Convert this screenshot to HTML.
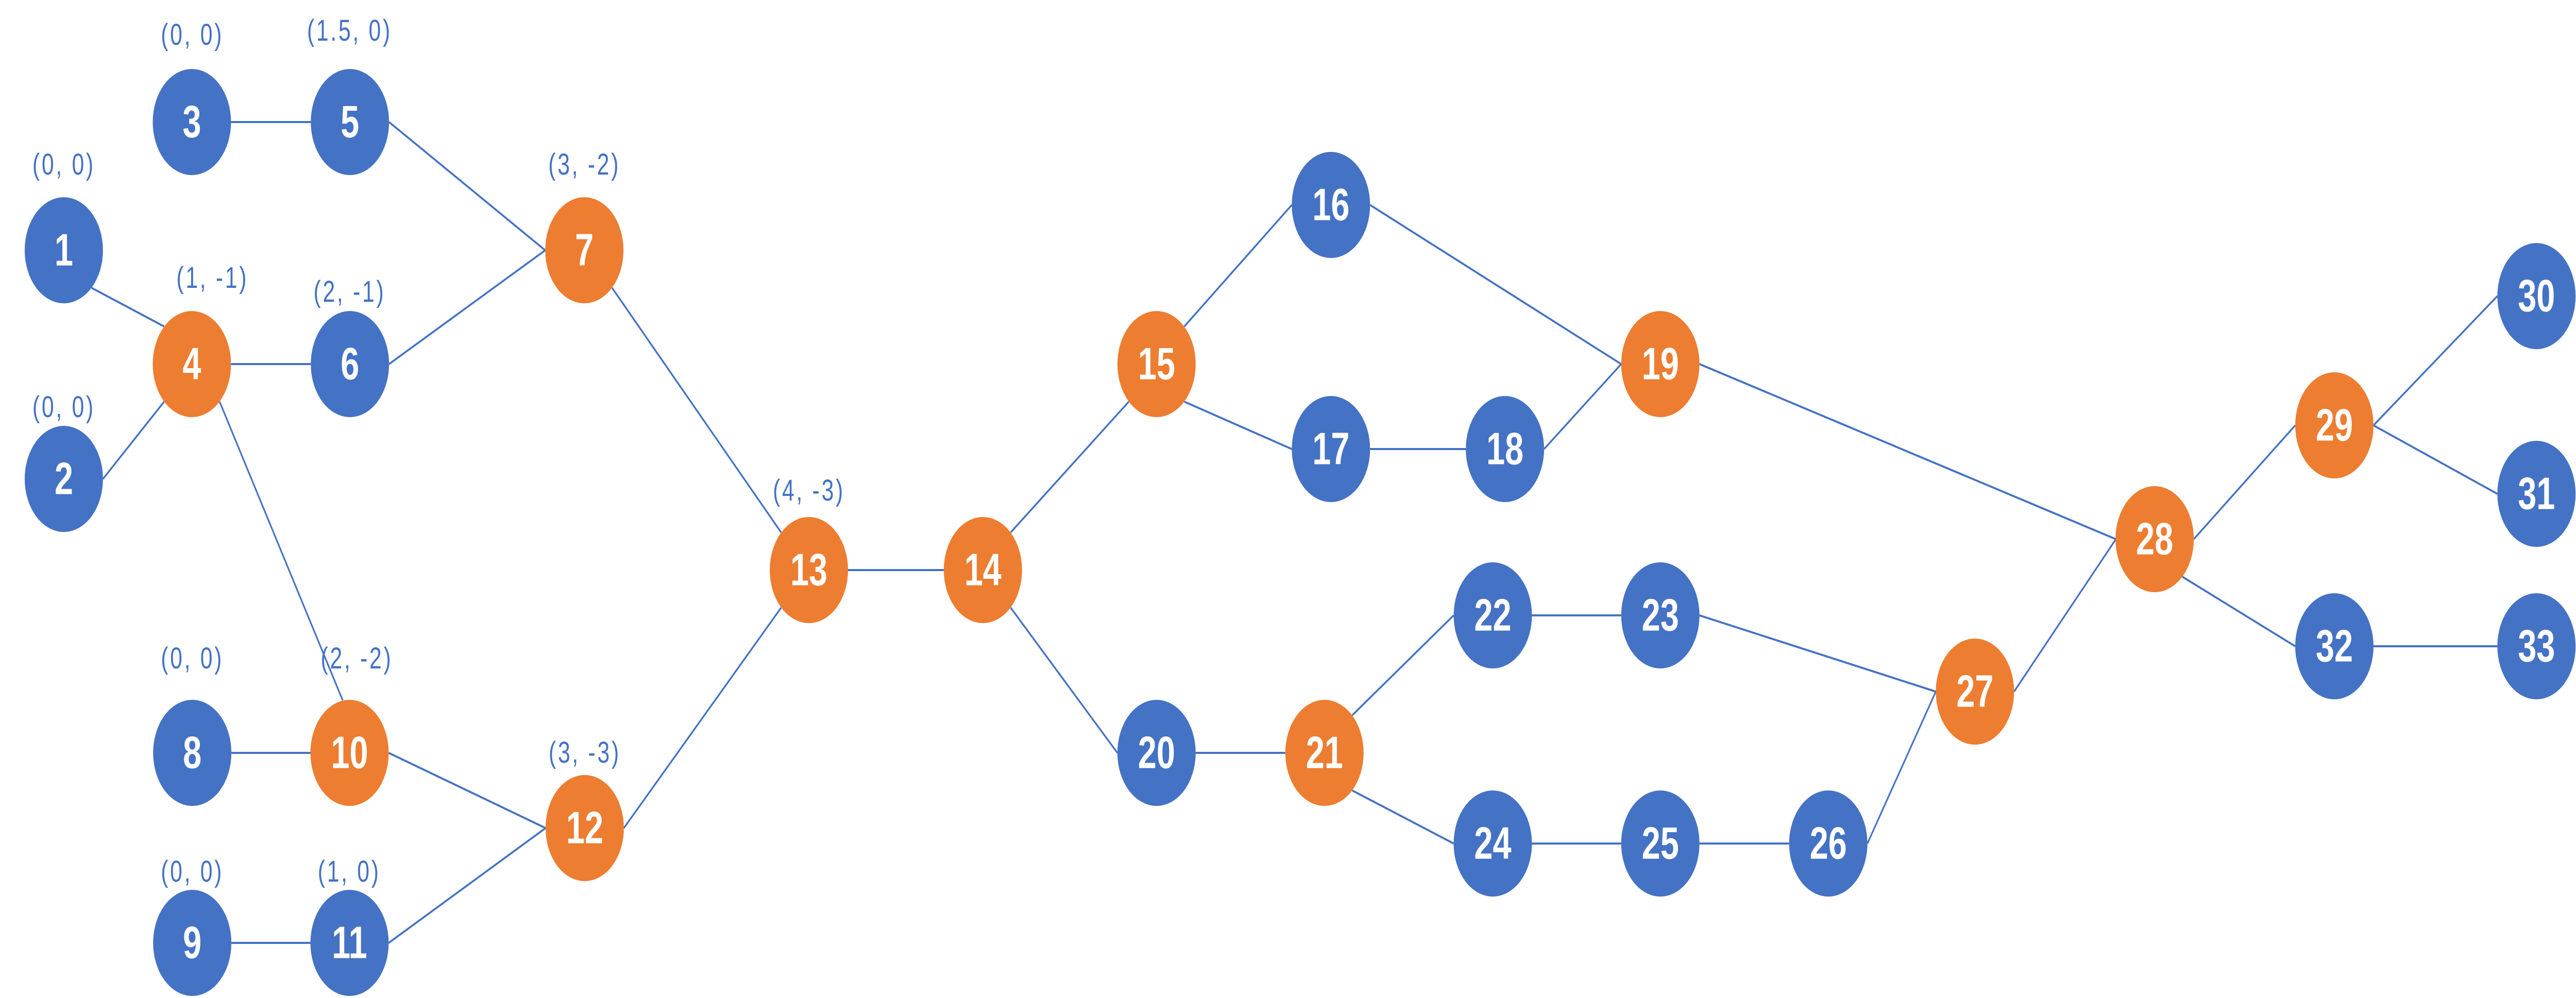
<!DOCTYPE html>
<html><head><meta charset="utf-8"><style>
html,body{margin:0;padding:0;background:#fff;overflow:hidden;width:100%;height:100%;}
svg{display:block;width:100vw;height:100vh;}
.n{font-family:"Liberation Sans",sans-serif;font-weight:bold;font-size:88px;fill:#fff;text-anchor:middle;dominant-baseline:central;}
.l{font-family:"Liberation Sans",sans-serif;font-size:58px;fill:#4472C4;text-anchor:middle;dominant-baseline:central;letter-spacing:5px;}
</style></head><body>
<svg viewBox="0 0 6780 1938" preserveAspectRatio="none" xmlns="http://www.w3.org/2000/svg">
<g stroke="#4472C4" stroke-width="4" fill="none">
<line x1="608" y1="237" x2="818" y2="237"/>
<line x1="1024" y1="237" x2="1435" y2="486"/>
<line x1="1024" y1="707" x2="1435" y2="486"/>
<line x1="608" y1="707" x2="818" y2="707"/>
<line x1="241" y1="559" x2="432" y2="634"/>
<line x1="271" y1="930" x2="432" y2="780"/>
<line x1="578" y1="780" x2="902" y2="1360"/>
<line x1="609" y1="1462" x2="817" y2="1462"/>
<line x1="609" y1="1831" x2="817" y2="1831"/>
<line x1="1023" y1="1462" x2="1436" y2="1608"/>
<line x1="1023" y1="1831" x2="1436" y2="1608"/>
<line x1="1611" y1="559" x2="2056" y2="1034"/>
<line x1="1642" y1="1608" x2="2056" y2="1180"/>
<line x1="2232" y1="1107" x2="2484" y2="1107"/>
<line x1="2660" y1="1034" x2="2971" y2="780"/>
<line x1="2660" y1="1180" x2="2941" y2="1462"/>
<line x1="3117" y1="634" x2="3400" y2="398"/>
<line x1="3117" y1="780" x2="3400" y2="872"/>
<line x1="3606" y1="398" x2="4267" y2="707"/>
<line x1="3606" y1="872" x2="3858" y2="872"/>
<line x1="4064" y1="872" x2="4267" y2="707"/>
<line x1="4473" y1="707" x2="5569" y2="1047"/>
<line x1="3147" y1="1462" x2="3383" y2="1462"/>
<line x1="3559" y1="1389" x2="3826" y2="1195"/>
<line x1="3559" y1="1535" x2="3826" y2="1638"/>
<line x1="4032" y1="1195" x2="4267" y2="1195"/>
<line x1="4473" y1="1195" x2="5095" y2="1343"/>
<line x1="4032" y1="1638" x2="4267" y2="1638"/>
<line x1="4473" y1="1638" x2="4709" y2="1638"/>
<line x1="4915" y1="1638" x2="5095" y2="1343"/>
<line x1="5301" y1="1343" x2="5569" y2="1047"/>
<line x1="5774" y1="1047" x2="6041" y2="826"/>
<line x1="5744" y1="1120" x2="6041" y2="1255"/>
<line x1="6247" y1="826" x2="6573" y2="575"/>
<line x1="6247" y1="826" x2="6573" y2="959"/>
<line x1="6247" y1="1255" x2="6573" y2="1255"/>
</g>
<g>
<circle cx="168" cy="486" r="103" fill="#4472C4"/><text class="n" x="168" y="486">1</text>
<circle cx="168" cy="930" r="103" fill="#4472C4"/><text class="n" x="168" y="930">2</text>
<circle cx="505" cy="237" r="103" fill="#4472C4"/><text class="n" x="505" y="237">3</text>
<circle cx="505" cy="707" r="103" fill="#ED7D31"/><text class="n" x="505" y="707">4</text>
<circle cx="921" cy="237" r="103" fill="#4472C4"/><text class="n" x="921" y="237">5</text>
<circle cx="921" cy="707" r="103" fill="#4472C4"/><text class="n" x="921" y="707">6</text>
<circle cx="1538" cy="486" r="103" fill="#ED7D31"/><text class="n" x="1538" y="486">7</text>
<circle cx="506" cy="1462" r="103" fill="#4472C4"/><text class="n" x="506" y="1462">8</text>
<circle cx="506" cy="1831" r="103" fill="#4472C4"/><text class="n" x="506" y="1831">9</text>
<circle cx="920" cy="1462" r="103" fill="#ED7D31"/><text class="n" x="920" y="1462">10</text>
<circle cx="920" cy="1831" r="103" fill="#4472C4"/><text class="n" x="920" y="1831">11</text>
<circle cx="1539" cy="1608" r="103" fill="#ED7D31"/><text class="n" x="1539" y="1608">12</text>
<circle cx="2129" cy="1107" r="103" fill="#ED7D31"/><text class="n" x="2129" y="1107">13</text>
<circle cx="2587" cy="1107" r="103" fill="#ED7D31"/><text class="n" x="2587" y="1107">14</text>
<circle cx="3044" cy="707" r="103" fill="#ED7D31"/><text class="n" x="3044" y="707">15</text>
<circle cx="3503" cy="398" r="103" fill="#4472C4"/><text class="n" x="3503" y="398">16</text>
<circle cx="3503" cy="872" r="103" fill="#4472C4"/><text class="n" x="3503" y="872">17</text>
<circle cx="3961" cy="872" r="103" fill="#4472C4"/><text class="n" x="3961" y="872">18</text>
<circle cx="4370" cy="707" r="103" fill="#ED7D31"/><text class="n" x="4370" y="707">19</text>
<circle cx="3044" cy="1462" r="103" fill="#4472C4"/><text class="n" x="3044" y="1462">20</text>
<circle cx="3486" cy="1462" r="103" fill="#ED7D31"/><text class="n" x="3486" y="1462">21</text>
<circle cx="3929" cy="1195" r="103" fill="#4472C4"/><text class="n" x="3929" y="1195">22</text>
<circle cx="4370" cy="1195" r="103" fill="#4472C4"/><text class="n" x="4370" y="1195">23</text>
<circle cx="3929" cy="1638" r="103" fill="#4472C4"/><text class="n" x="3929" y="1638">24</text>
<circle cx="4370" cy="1638" r="103" fill="#4472C4"/><text class="n" x="4370" y="1638">25</text>
<circle cx="4812" cy="1638" r="103" fill="#4472C4"/><text class="n" x="4812" y="1638">26</text>
<circle cx="5198" cy="1343" r="103" fill="#ED7D31"/><text class="n" x="5198" y="1343">27</text>
<circle cx="5671" cy="1047" r="103" fill="#ED7D31"/><text class="n" x="5671" y="1047">28</text>
<circle cx="6144" cy="826" r="103" fill="#ED7D31"/><text class="n" x="6144" y="826">29</text>
<circle cx="6676" cy="575" r="103" fill="#4472C4"/><text class="n" x="6676" y="575">30</text>
<circle cx="6676" cy="959" r="103" fill="#4472C4"/><text class="n" x="6676" y="959">31</text>
<circle cx="6144" cy="1255" r="103" fill="#4472C4"/><text class="n" x="6144" y="1255">32</text>
<circle cx="6676" cy="1255" r="103" fill="#4472C4"/><text class="n" x="6676" y="1255">33</text>
</g>
<g xml:space="preserve">
<text class="l" x="506" y="67">(0,  0)</text>
<text class="l" x="920" y="59">(1.5,  0)</text>
<text class="l" x="168" y="319">(0,  0)</text>
<text class="l" x="559" y="539">(1,  -1)</text>
<text class="l" x="920" y="566">(2,  -1)</text>
<text class="l" x="1538" y="319">(3,  -2)</text>
<text class="l" x="168" y="790">(0,  0)</text>
<text class="l" x="2129" y="952">(4,  -3)</text>
<text class="l" x="506" y="1278">(0,  0)</text>
<text class="l" x="939" y="1278">(2,  -2)</text>
<text class="l" x="1539" y="1461">(3,  -3)</text>
<text class="l" x="506" y="1692">(0,  0)</text>
<text class="l" x="919" y="1692">(1,  0)</text>
</g>
</svg>
</body></html>
